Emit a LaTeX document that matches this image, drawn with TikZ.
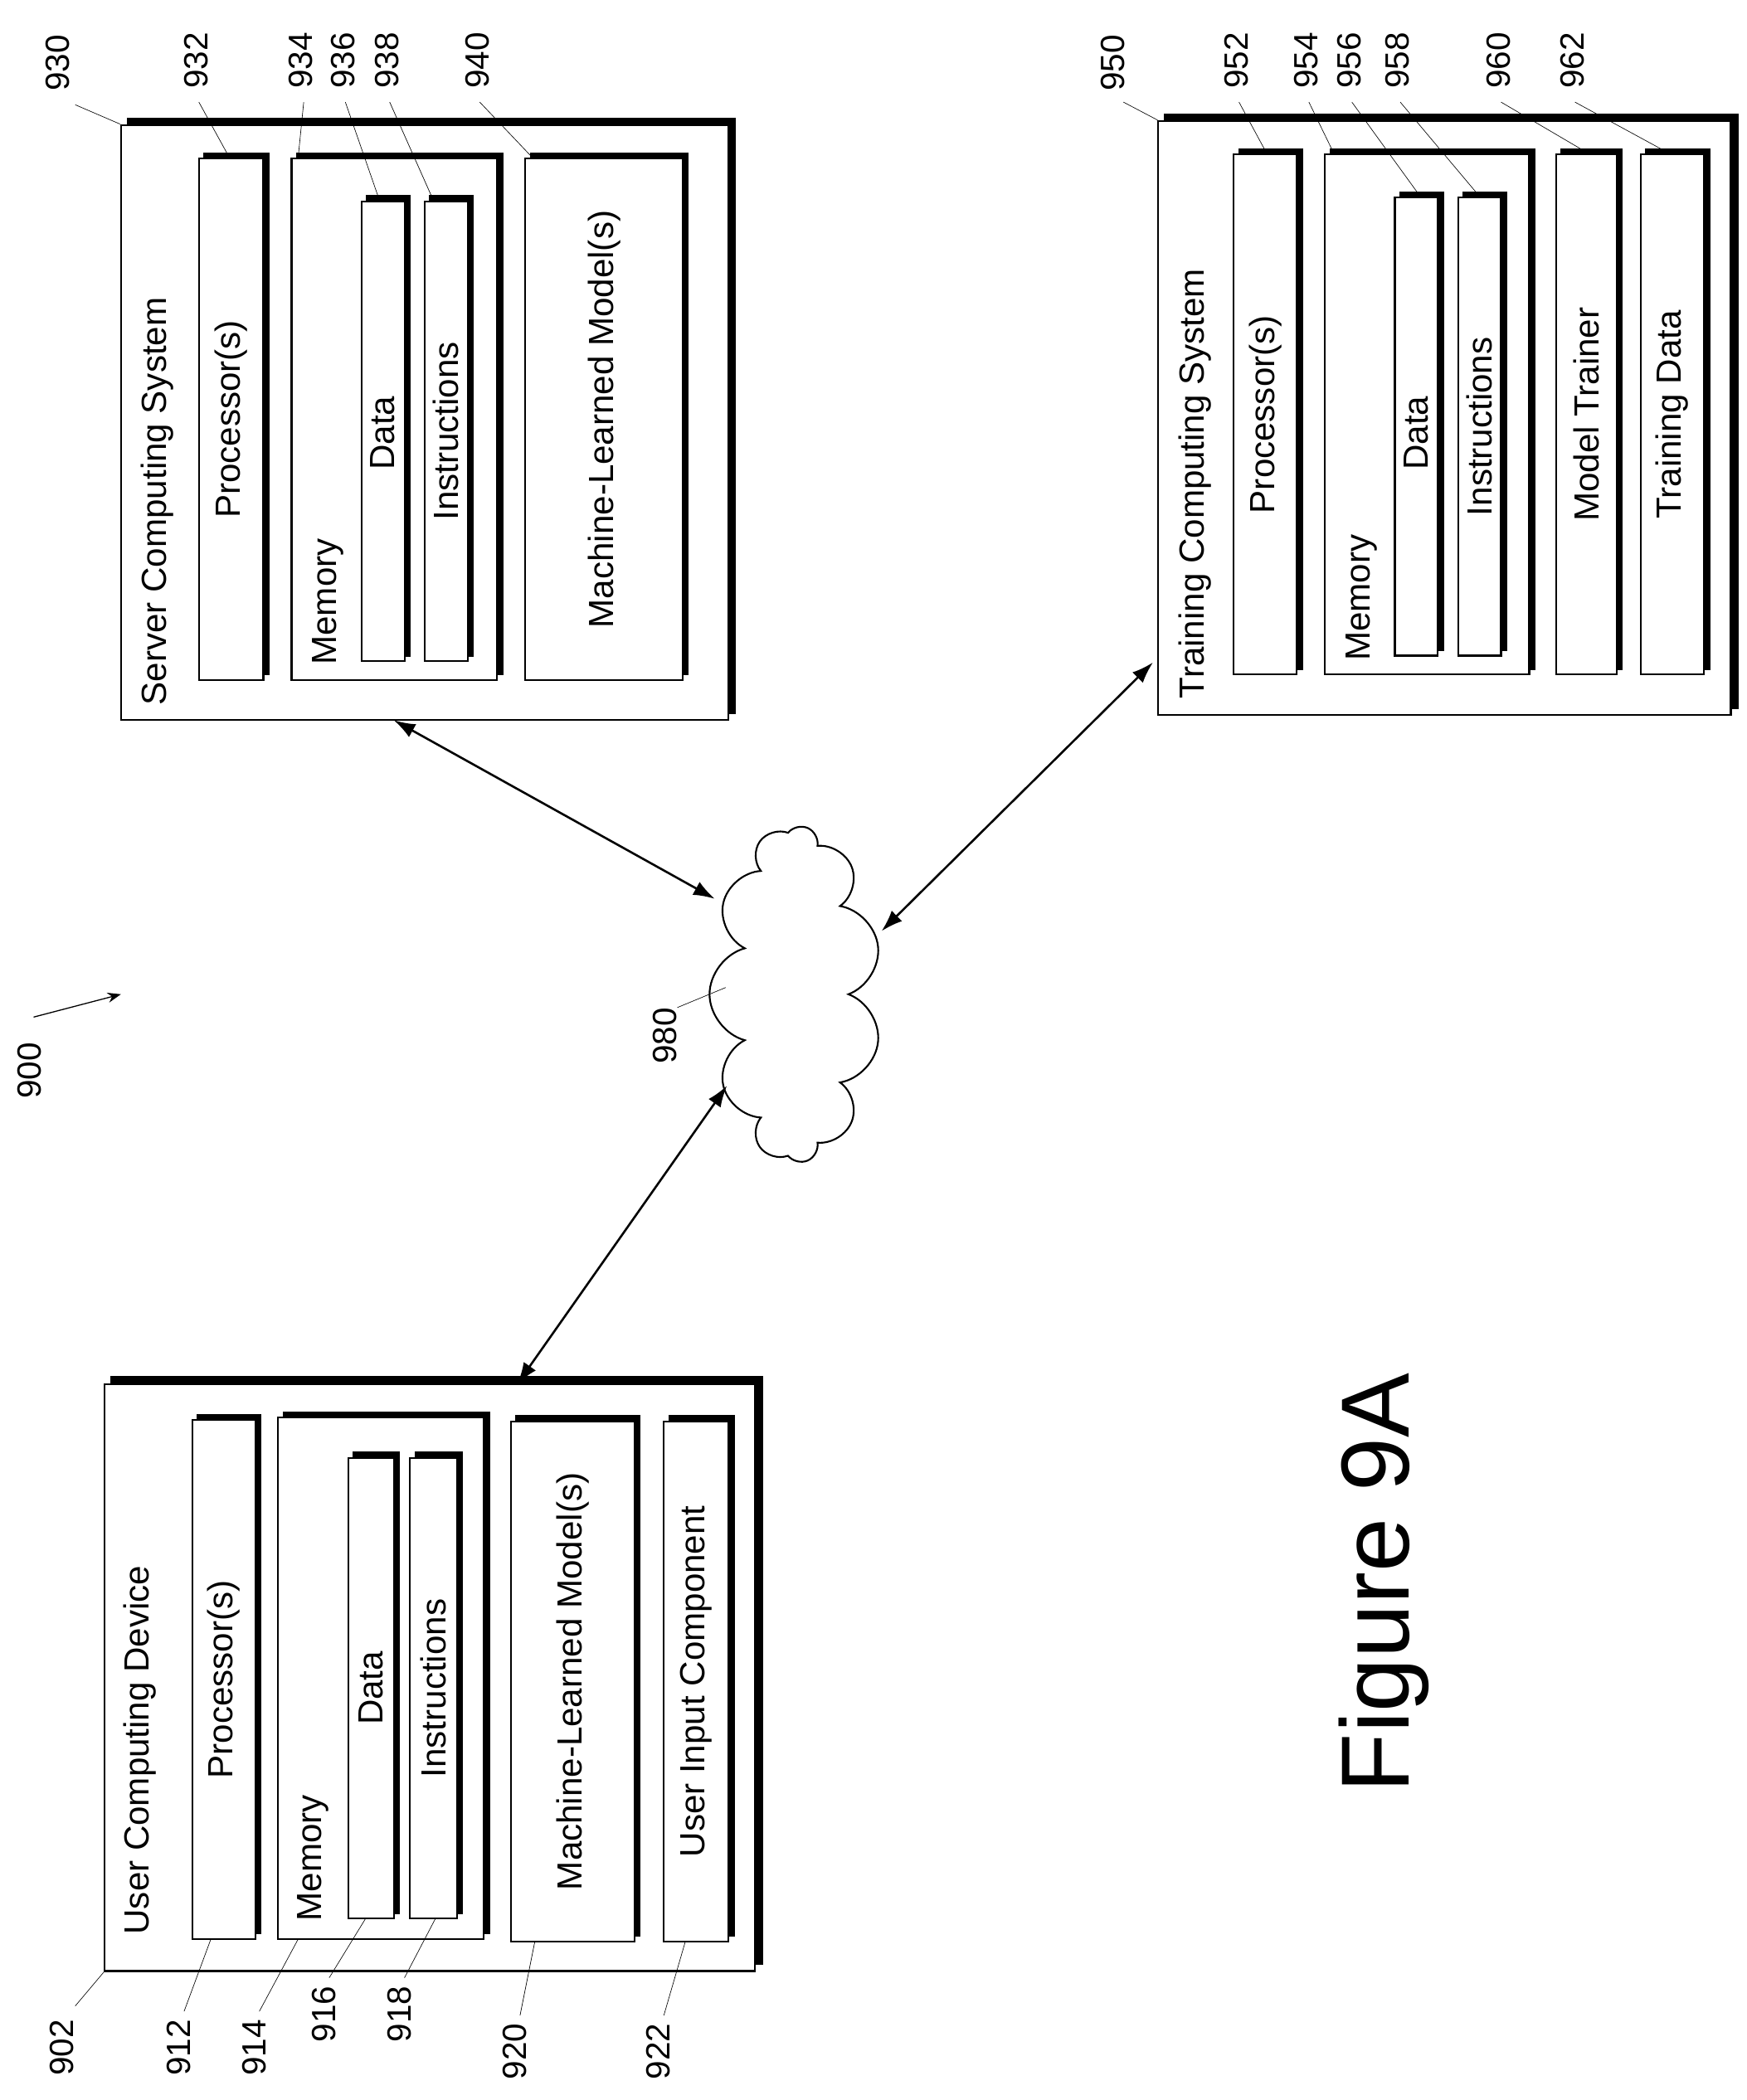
\documentclass[tikz,border=0pt]{standalone}
\usepackage{fontspec}
\setmainfont{Liberation Sans}
\usetikzlibrary{fit,shadows,shapes.symbols,arrows.meta}

\tikzset{
  blk/.style={draw, fill=white, line width=1.3pt, inner sep=0pt,
    copy shadow={shadow xshift=4pt, shadow yshift=4pt, fill=black, draw=black}},
  outer/.style={draw, fill=white, line width=1.3pt, inner sep=0pt,
    copy shadow={shadow xshift=5pt, shadow yshift=5pt, fill=black, draw=black}},
  txt/.style={rotate=90, font=\fontsize{26}{28}\selectfont, inner sep=0pt},
  ref/.style={rotate=90, anchor=west, font=\fontsize{25}{27}\selectfont, inner sep=0pt},
  lead/.style={line width=0.4pt},
  link/.style={line width=1.6pt, {Latex[length=16pt,width=11pt]}-{Latex[length=16pt,width=11pt]}}
}

\begin{document}
\begin{tikzpicture}[x=1pt, y=-1pt]
  \useasboundingbox (0,0) rectangle (1300,1563);

  % user computing device
  \node[outer, fit={(78,1030)(562,1467)}] (usr) {};
  \node[blk, fit={(143,1057)(190,1443)}] (usrproc) {};
  \node[blk, fit={(207,1055)(360,1443)}] (usrmem) {};
  \node[blk, fit={(259,1085)(293,1428)}] (usrdata) {};
  \node[blk, fit={(305,1085)(340,1428)}] (usrinstr) {};
  \node[blk, fit={(380,1058)(472,1445)}] (usrml) {};
  \node[blk, fit={(494,1058)(542,1445)}] (usrin) {};
  \node[txt, anchor=west] at (104,1440) {User Computing Device};
  \node[txt] at (usrproc) {Processor(s)};
  \node[txt, anchor=west] at (233,1430) {Memory};
  \node[txt] at (usrdata) {Data};
  \node[txt] at (usrinstr) {Instructions};
  \node[txt] at (usrml) {Machine-Learned Model(s)};
  \node[txt] at (usrin) {User Input Component};

  % server computing system
  \node[outer, fit={(90,93)(542,536)}] (srv) {};
  \node[blk, fit={(148,118)(196,506)}] (srvproc) {};
  \node[blk, fit={(217,118)(370,506)}] (srvmem) {};
  \node[blk, fit={(269,150)(301,492)}] (srvdata) {};
  \node[blk, fit={(316,150)(348,492)}] (srvinstr) {};
  \node[blk, fit={(391,118)(508,506)}] (srvml) {};
  \node[txt, anchor=west] at (117,525) {Server Computing System};
  \node[txt] at (srvproc) {Processor(s)};
  \node[txt, anchor=west] at (244,495) {Memory};
  \node[txt, anchor=west] at (285,350) {Data};
  \node[txt] at (srvinstr) {Instructions};
  \node[txt] at (srvml) {Machine-Learned Model(s)};

  % training computing system
  \node[outer, fit={(862,90)(1288,532)}] (trn) {};
  \node[blk, fit={(918,115)(965,502)}] (trnproc) {};
  \node[blk, fit={(986,115)(1138,502)}] (trnmem) {};
  \node[blk, fit={(1038,147)(1070,488)}] (trndata) {};
  \node[blk, fit={(1085,147)(1117,488)}] (trninstr) {};
  \node[blk, fit={(1158,115)(1203,502)}] (trnmt) {};
  \node[blk, fit={(1221,115)(1268,502)}] (trntd) {};
  \node[txt, anchor=west] at (889,520) {Training Computing System};
  \node[txt] at (trnproc) {Processor(s)};
  \node[txt, anchor=west] at (1013,492) {Memory};
  \node[txt, anchor=west] at (1054,350) {Data};
  \node[txt] at (trninstr) {Instructions};
  \node[txt] at (trnmt) {Model Trainer};
  \node[txt] at (trntd) {Training Data};

  % network
  \node[cloud, draw, line width=1.3pt, cloud puffs=11, aspect=2,
    minimum width=250pt, minimum height=128pt, rotate=90] (net) at (592,740) {};
  \coordinate (srvend) at (293,536);
  \coordinate (trnend) at (858,493);
  \coordinate (usrend) at (385,1030);
  \coordinate (netsrv) at (532,669);
  \coordinate (nettrn) at (656,693);
  \coordinate (netusr) at (541,808);
  \draw[link] (srvend) -- (netsrv);
  \draw[link] (trnend) -- (nettrn);
  \draw[link] (usrend) -- (netusr);

  % reference numerals
  \node[ref] (r900) at (22,818) {900};
  \coordinate (a900) at (90,740);
  \draw[line width=0.8pt, -{Stealth[length=10pt]}] (25,757) -- (a900);
  \node[ref] (r980) at (495,792) {980};
  \draw[lead] (r980.south east) -- (540,735);

  \node[ref] (r930) at (43,68) {930};
  \draw[lead] (r930.south west) ++(4,10) -- (srv.north west);
  \foreach \n/\x/\tx/\ty in {932/146/170/116, 934/224/222/116, 936/255/282/148,
      938/288/322/148, 940/355/395/116} {
    \node[ref] (r\n) at (\x,66) {\n};
    \draw[lead] (\x+2,76) -- (\tx,\ty);
  }
  \node[ref] (r950) at (828,68) {950};
  \draw[lead] (836,76) -- (trn.north west);
  \foreach \n/\x/\tx/\ty in {952/920/942/113, 954/972/992/113, 956/1004/1056/145,
      958/1040/1100/145, 960/1115/1180/113, 962/1170/1240/113} {
    \node[ref] (r\n) at (\x,66) {\n};
    \draw[lead] (\x+2,76) -- (\tx,\ty);
  }

  \node[ref] (r902) at (46,1545) {902};
  \draw[lead] (usr.south west) -- (56,1493);
  \foreach \n/\x/\y/\fx/\fy in {912/133/1545/157/1443, 914/189/1545/222/1443,
      916/241/1520/272/1428, 918/297/1520/324/1428, 920/383/1548/398/1445,
      922/490/1548/510/1445} {
    \node[ref] (r\n) at (\x,\y) {\n};
    \draw[lead] (\fx,\fy) -- (\x+4,\y-48);
  }

  \node[rotate=90, font=\fontsize{72}{76}\selectfont] (fig) at (1030,1178) {Figure 9A};
\end{tikzpicture}
\end{document}
